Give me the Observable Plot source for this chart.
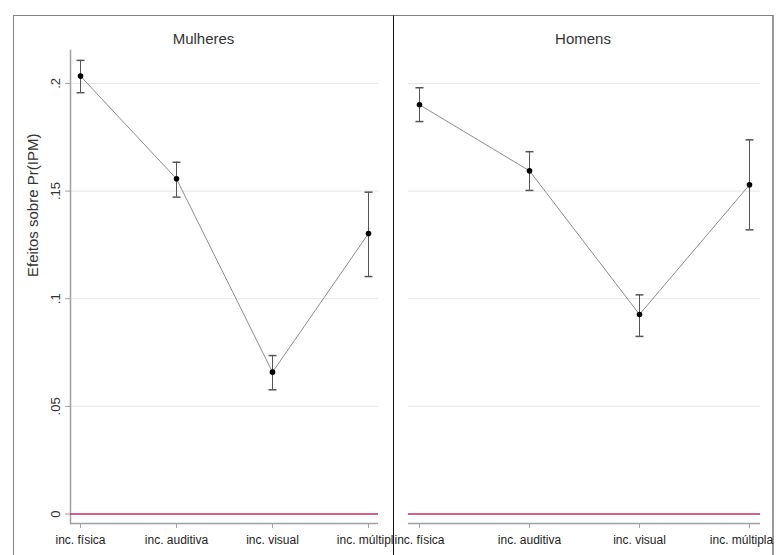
<!DOCTYPE html>
<html><head><meta charset="utf-8">
<script src="https://cdn.jsdelivr.net/npm/d3@7"></script>
<script src="https://cdn.jsdelivr.net/npm/@observablehq/plot@0.6"></script>
<style>
body{margin:0;background:#fff;font-family:"Liberation Sans",Arial,sans-serif;}
#wrap{position:relative;width:781px;height:555px;overflow:hidden;background:#fff;}
.panel{position:absolute;top:15px;height:560px;box-sizing:border-box;background:#fff;border-top:1px solid #808080;}
#left{left:13px;width:380px;border-left:1px solid #808080;overflow:hidden;}
#right{left:393px;width:381px;border-left:1px solid #111;border-right:2px solid #999;overflow:visible;}
.title{position:absolute;left:0;right:0;top:13px;text-align:center;font-size:15px;line-height:20px;color:#333;z-index:2;}
.panel svg{position:absolute;left:0;top:0;}
</style></head>
<body><div id="wrap"><div class="panel" id="left"><div class="title">Mulheres</div></div><div class="panel" id="right"><div class="title">Homens</div></div></div>
<script>
const categories = ["inc. física", "inc. auditiva", "inc. visual", "inc. múltipla"];
const mulheresEst = [0.2034, 0.1557, 0.0659, 0.1303];
const mulheresLo  = [0.1957, 0.1472, 0.0577, 0.1103];
const mulheresHi  = [0.2107, 0.1634, 0.0736, 0.1495];
const homensEst = [0.1901, 0.1594, 0.0927, 0.1529];
const homensLo  = [0.1823, 0.1503, 0.0825, 0.1320];
const homensHi  = [0.1980, 0.1683, 0.1018, 0.1738];
const yTicks = [0, 0.05, 0.1, 0.15, 0.2];
const yTickLabels = ["0", ".05", ".1", ".15", ".2"];
const yDomain = [-0.0044, 0.2153];
const yTitle = "Efeitos sobre Pr(IPM)";

const capSymbol = {draw(ctx, size){ const w = Math.sqrt(size / Math.PI); ctx.moveTo(-w, 0); ctx.lineTo(w, 0); }};

function makePlot(est, lo, hi, o) {
  const rows = categories.map((c, i) => ({cat: c, est: est[i], lo: lo[i], hi: hi[i]}));
  const axisGray = "#a0a0a0";
  const marks = [
    Plot.gridY(yTicks, {stroke: "#e6e6e6", strokeOpacity: 1}),
    Plot.ruleY([yDomain[0]], {stroke: axisGray, strokeWidth: 1.5}),
  ];
  if (o.yaxis) {
    marks.push(
      Plot.frame({anchor: "left", stroke: axisGray, strokeWidth: 1.5}),
      Plot.axisY(yTicks, {tickSize: 5, tickFormat: () => "", stroke: axisGray, label: null}),
      Plot.text(yTicks, {y: d => d, text: (d, i) => yTickLabels[i], frameAnchor: "left", dx: -11, rotate: -90, textAnchor: "middle", lineAnchor: "bottom", fontSize: 13, fill: "#333"}),
      Plot.text([yTitle], {frameAnchor: "left", dx: -37, dy: -10, rotate: -90, fontSize: 15, fill: "#333"})
    );
  }
  const labelOpts = {x: d => d, text: d => d, frameAnchor: "bottom", lineAnchor: "top", dy: 12, fontSize: 12, fill: "#222"};
  marks.push(
    Plot.ruleY([0], {stroke: "#c8305c", strokeWidth: 1.5}),
    Plot.axisX({tickSize: 5, tickFormat: () => "", stroke: axisGray, label: null}),
    Plot.text(categories.slice(0, 3), labelOpts),
    Plot.text(categories.slice(3), {...labelOpts, dx: o.lastShift}),
    Plot.line(rows, {x: "cat", y: "est", stroke: "#8c8c8c", strokeWidth: 1}),
    Plot.ruleX(rows, {x: "cat", y1: "lo", y2: "hi", stroke: "#555"}),
    Plot.dot(rows, {x: "cat", y: "lo", symbol: capSymbol, r: 4, stroke: "#555", fill: "none"}),
    Plot.dot(rows, {x: "cat", y: "hi", symbol: capSymbol, r: 4, stroke: "#555", fill: "none"}),
    Plot.dot(rows, {x: "cat", y: "est", r: 2.8, fill: "#000", stroke: "none"})
  );
  return Plot.plot({
    width: o.width, height: 539,
    marginLeft: o.ml, marginRight: o.mr, marginTop: 34, marginBottom: 32,
    x: {type: "point", domain: categories, padding: o.pad, axis: null},
    y: {domain: yDomain, axis: null},
    style: {fontFamily: "Liberation Sans, Arial, sans-serif", background: "transparent", color: "#333", overflow: "visible"},
    marks
  });
}

document.getElementById("left").appendChild(makePlot(mulheresEst, mulheresLo, mulheresHi, {width: 379, ml: 56, mr: 15, pad: 0.1, yaxis: true, lastShift: 0}));
document.getElementById("right").appendChild(makePlot(homensEst, homensLo, homensHi, {width: 378, ml: 14, mr: 12, pad: 0.09, yaxis: false, lastShift: -8}));
</script>
</body></html>
